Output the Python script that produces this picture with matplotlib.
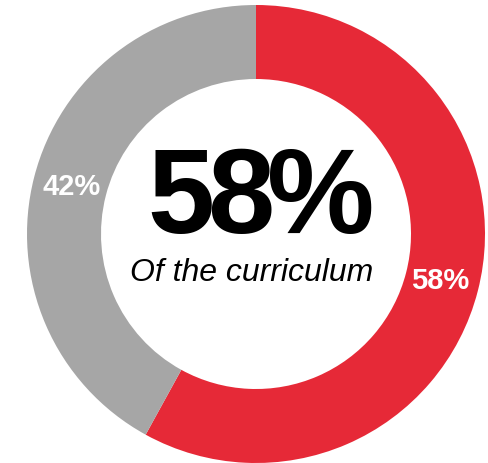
import matplotlib

matplotlib.use("Agg")
import matplotlib.pyplot as plt

# share of the curriculum, drawn as a donut starting at 12 o'clock, clockwise
labels = ["Covered", "Remaining"]
shares = [58, 42]
colors = ["#E62937", "#A6A6A6"]
headline = "58%"
caption = "Of the curriculum"

W, H = 489, 463
fig = plt.figure(figsize=(W / 100, H / 100), dpi=100)
ax = fig.add_axes([0, 0, 1, 1])

cx, cy, r = 256, 229, 229
wedges, _, pcts = ax.pie(
    shares,
    colors=colors,
    startangle=90,
    counterclock=False,
    center=(cx, cy),
    radius=r,
    wedgeprops=dict(width=74, linewidth=0),
    autopct=lambda p: f"{p:.0f}%",
    pctdistance=0.83,
    frame=True,
)
ax.set_xlim(0, W)
ax.set_ylim(0, H)
ax.set_aspect("equal")
ax.axis("off")
for t in pcts:
    t.set_color("white")
    t.set_fontsize(21)
    t.set_fontweight("bold")
    t.set_family("Liberation Sans")

# big headline with tight tracking: lay the glyphs out one by one
renderer = fig.canvas.get_renderer()
track = -7  # px between glyphs
chars = []
for ch in headline:
    chars.append(ax.text(0, cy + 1, ch, ha="left", va="baseline", fontsize=87,
                         fontweight="bold", family="Liberation Sans", color="black"))
widths = [c.get_window_extent(renderer).width for c in chars]
total = sum(widths) + track * (len(chars) - 1)
x = cx + 5 - total / 2
for c, w in zip(chars, widths):
    c.set_x(x)
    x += w + track

ax.text(cx - 4, cy - 47, caption, ha="center", va="baseline", fontsize=23,
        style="italic", family="Liberation Sans", color="black")

fig.savefig("out.png", dpi=100)
